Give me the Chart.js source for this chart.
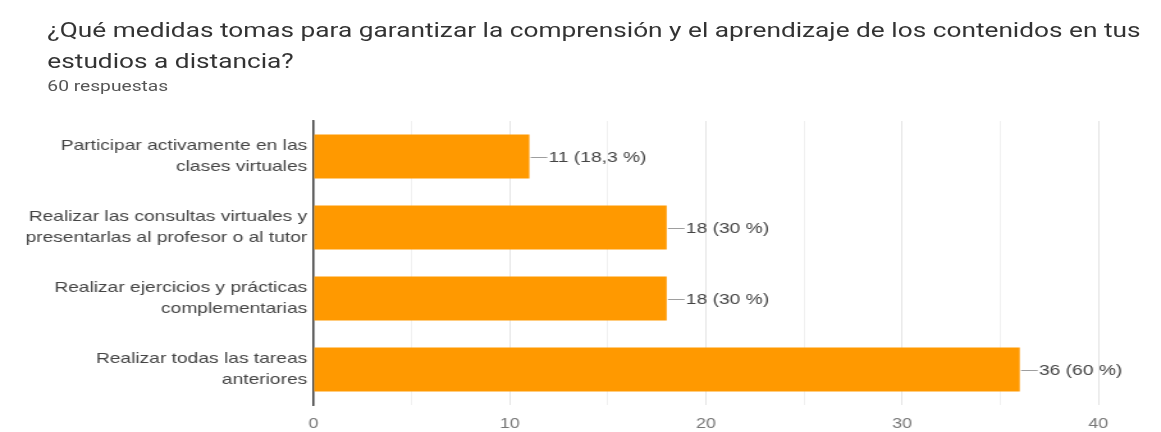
<!DOCTYPE html>
<html>
<head>
<meta charset="utf-8">
<script src="https://cdn.jsdelivr.net/npm/chart.js@4/dist/chart.umd.min.js"></script>
<style>
  html, body { margin: 0; padding: 0; background: #fff; }
  body { width: 1161px; height: 432px; position: relative; overflow: hidden; }
  /* the reference is a horizontally stretched screenshot, so the whole stage is stretched too */
  #stage {
    position: absolute; left: 0; top: 0; width: 907px; height: 432px;
    transform: scaleX(1.28); transform-origin: 0 0;
  }
  #title {
    position: absolute; left: 37px; top: 15px;
    font-family: Roboto, "Liberation Sans", sans-serif;
    font-size: 20.5px; line-height: 31px; color: #333;
    white-space: nowrap;
  }
  #sub {
    position: absolute; left: 37px; top: 77px;
    font-family: Roboto, "Liberation Sans", sans-serif;
    font-size: 15px; color: #555;
  }
  #wrap { position: absolute; left: 0; top: 110px; width: 907px; height: 322px; }
</style>
</head>
<body>
<div id="stage">
<div id="title">¿Qué medidas tomas para garantizar la comprensión y el aprendizaje de los contenidos en tus<br>estudios a distancia?</div>
<div id="sub">60 respuestas</div>
<div id="wrap"><canvas id="chart"></canvas></div>
</div>
<script>
// Categories (split into lines as in the picture)
const categories = [
    ['Participar activamente en las', 'clases virtuales'],
    ['Realizar las consultas virtuales y', 'presentarlas al profesor o al tutor'],
    ['Realizar ejercicios y prácticas', 'complementarias'],
    ['Realizar todas las tareas', 'anteriores']
];

// Counts per answer
const counts = [11, 18, 18, 36];

// Percent labels as shown
const percents = ['18,3 %', '30 %', '30 %', '60 %'];

// x axis ticks with labels
const xTicks = [0, 10, 20, 30, 40];

const labelFont = '"Liberation Sans", Arial, sans-serif';

// Draws the "—11 (18,3 %)" labels next to each bar
const barLabels = {
    id: 'barLabels',
    afterDatasetsDraw(chart) {
        const ctx = chart.ctx;
        const meta = chart.getDatasetMeta(0);
        ctx.save();
        meta.data.forEach(function(bar, i) {
            const x = bar.x;
            const y = bar.y;
            ctx.strokeStyle = '#9e9e9e';
            ctx.lineWidth = 1;
            ctx.beginPath();
            ctx.moveTo(x + 1, Math.round(y) + 0.5);
            ctx.lineTo(x + 14, Math.round(y) + 0.5);
            ctx.stroke();
            ctx.fillStyle = '#444';
            ctx.font = '15px ' + labelFont;
            ctx.textBaseline = 'middle';
            ctx.textAlign = 'left';
            ctx.fillText(counts[i] + ' (' + percents[i] + ')', x + 15, y + 1);
        });
        ctx.restore();
    }
};

const ctx = document.getElementById('chart').getContext('2d');
const chart = new Chart(ctx, {
    type: 'bar',
    data: {
        labels: categories,
        datasets: [{
            data: counts,
            backgroundColor: '#ff9900',
            borderWidth: 0,
            barPercentage: 0.62,
            categoryPercentage: 1.0
        }]
    },
    options: {
        indexAxis: 'y',
        responsive: true,
        maintainAspectRatio: false,
        animation: false,
        layout: { padding: { top: 11, right: 49, bottom: 0, left: 0 } },
        scales: {
            x: {
                min: 0,
                max: 40,
                afterBuildTicks: function(scale) {
                    const t = [];
                    for (let v = 0; v <= 40; v += 5) t.push({ value: v });
                    scale.ticks = t;
                },
                afterFit: function(scale) { scale.height = 27; },
                grid: {
                    color: function(c) { return c.tick && c.tick.value % 10 === 0 ? '#e4e4e4' : '#f0f0f0'; },
                    drawTicks: false
                },
                border: { display: false },
                ticks: {
                    autoSkip: false,
                    maxRotation: 0,
                    padding: 11,
                    color: '#777',
                    font: { family: labelFont, size: 14 },
                    callback: function(v) { return xTicks.indexOf(v) >= 0 ? String(v) : ''; }
                }
            },
            y: {
                afterFit: function(scale) {
                    scale.width = 245;
                    scale.paddingTop = 0;
                    scale.paddingBottom = 0;
                },
                grid: { display: false, drawTicks: false },
                border: { display: true, color: '#444', width: 1.5 },
                ticks: {
                    padding: 5,
                    color: '#444',
                    font: { family: labelFont, size: 15, lineHeight: 1.4 }
                }
            }
        },
        plugins: {
            legend: { display: false },
            tooltip: { enabled: false }
        }
    },
    plugins: [barLabels]
});
</script>
</body>
</html>
